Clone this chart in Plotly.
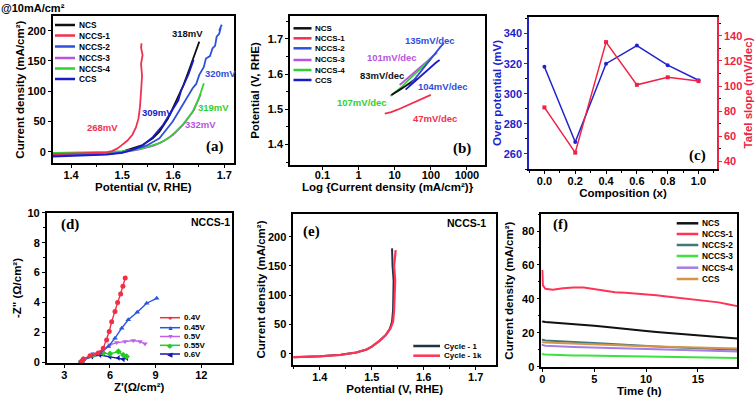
import plotly.graph_objects as go

W, H = 756, 402

# ---------------- Panel (a): LSV curves ----------------
a_ncs_x = [1.364, 1.42, 1.47, 1.50, 1.52, 1.54, 1.56, 1.573, 1.59, 1.605, 1.62, 1.631, 1.64, 1.651]
a_ncs_y = [-5, -4.5, -3, 0, 5, 11, 22, 33, 55, 83, 110, 135, 155, 182]
a_nccs1_x = [1.364, 1.42, 1.45, 1.47, 1.48, 1.49, 1.498, 1.51, 1.52, 1.527, 1.532, 1.535, 1.537, 1.539, 1.537, 1.540, 1.537, 1.538]
a_nccs1_y = [-4, -3, -2, -1, 1, 5, 10, 18, 28, 40, 55, 75, 100, 125, 145, 160, 172, 179]
a_nccs2_x = [1.364, 1.42, 1.47, 1.50, 1.52, 1.54, 1.55, 1.573, 1.599, 1.618, 1.625, 1.638, 1.645, 1.651, 1.66, 1.664, 1.672, 1.677, 1.682, 1.685, 1.69, 1.693, 1.69, 1.695]
a_nccs2_y = [-6, -5.5, -4, -1, 3, 8, 11, 22, 50, 77, 85, 105, 112, 127, 140, 154, 158, 171, 175, 190, 195, 205, 200, 210]
a_nccs3_x = [1.364, 1.42, 1.47, 1.50, 1.53, 1.562, 1.58, 1.60, 1.62, 1.64, 1.654]
a_nccs3_y = [-4, -4, -3, -1, 3, 10, 17, 28, 45, 68, 95]
a_nccs4_x = [1.364, 1.42, 1.47, 1.50, 1.53, 1.549, 1.573, 1.59, 1.605, 1.62, 1.638, 1.65, 1.66]
a_nccs4_y = [-2, -1.5, -0.5, 1, 4, 8, 14, 22, 33, 46, 66, 88, 113]
a_ccs_x = [1.364, 1.42, 1.47, 1.50, 1.52, 1.539, 1.56, 1.58, 1.60, 1.61, 1.615, 1.622, 1.63, 1.635, 1.64]
a_ccs_y = [-8, -7, -5, -2, 3, 10, 24, 44, 72, 85, 100, 112, 128, 140, 152]
a_labels = ["318mV", "320mV", "309mV", "319mV", "332mV", "268mV"]

# ---------------- Panel (b): Tafel plots ----------------
b_ncs_j = [8.1, 10, 14, 20, 28, 35, 40]
b_ncs_e = [1.541, 1.546, 1.556, 1.566, 1.576, 1.583, 1.588]
b_nccs1_j = [5.3, 8, 12, 20, 35, 55, 80, 100]
b_nccs1_e = [1.488, 1.492, 1.499, 1.509, 1.521, 1.531, 1.538, 1.541]
b_nccs2_j = [25, 35, 50, 70, 100, 140, 180, 230]
b_nccs2_e = [1.566, 1.585, 1.605, 1.625, 1.645, 1.662, 1.676, 1.688]
b_nccs3_j = [13.7, 20, 30, 50, 80, 110, 150]
b_nccs3_e = [1.569, 1.583, 1.598, 1.617, 1.637, 1.650, 1.661]
b_nccs4_j = [7.6, 10, 15, 25, 40, 60, 80, 98]
b_nccs4_e = [1.538, 1.548, 1.562, 1.585, 1.605, 1.622, 1.635, 1.642]
b_ccs_j = [20, 25, 35, 50, 70, 100, 140, 175]
b_ccs_e = [1.556, 1.565, 1.578, 1.592, 1.606, 1.620, 1.633, 1.640]
b_labels = ["135mV/dec", "101mV/dec", "83mV/dec", "104mV/dec", "107mV/dec", "47mV/dec"]

# ---------------- Panel (c): composition ----------------
c_comp = [0.0, 0.2, 0.4, 0.6, 0.8, 1.0]
c_overpot = [318, 268, 320, 332, 319, 309]
c_tafel = [83, 47, 135, 101, 107, 104]

# ---------------- Panel (d): Nyquist ----------------
d_04_x = [4.1, 4.25, 4.69, 5.23, 5.56, 5.78, 5.95, 6.11, 6.33, 6.5, 6.70, 6.85, 7.0]
d_04_y = [0.05, 0.23, 0.45, 0.63, 0.96, 1.51, 2.07, 2.73, 3.40, 4.0, 4.58, 5.1, 5.65]
d_045_x = [4.1, 4.25, 4.80, 5.34, 5.89, 6.33, 6.77, 7.20, 7.79, 8.41, 9.07]
d_045_y = [0.05, 0.2, 0.51, 0.63, 1.07, 1.63, 2.29, 2.85, 3.36, 3.96, 4.29]
d_05_x = [4.1, 4.25, 4.9, 5.45, 6.0, 6.44, 6.99, 7.53, 7.97, 8.30]
d_05_y = [0.05, 0.2, 0.58, 0.73, 1.18, 1.33, 1.40, 1.47, 1.40, 1.25]
d_055_x = [4.1, 4.25, 4.9, 5.56, 6.0, 6.55, 6.87, 7.1]
d_055_y = [0.05, 0.2, 0.5, 0.63, 0.58, 0.73, 0.51, 0.4]
d_06_x = [4.1, 4.25, 4.8, 5.34, 6.0, 6.55, 6.87, 7.1]
d_06_y = [0.03, 0.17, 0.4, 0.5, 0.38, 0.31, 0.22, 0.3]

# ---------------- Panel (e): cycling LSV ----------------
e_c1_x = [1.349, 1.40, 1.44, 1.47, 1.49, 1.50, 1.515, 1.527, 1.535, 1.539, 1.541, 1.542, 1.542, 1.540, 1.539]
e_c1_y = [-6, -4.5, -2, 2, 7, 12, 22, 32, 43, 55, 75, 100, 125, 150, 180]
e_c1k_x = [1.349, 1.40, 1.44, 1.47, 1.49, 1.50, 1.515, 1.527, 1.536, 1.541, 1.543, 1.544, 1.545, 1.543, 1.546]
e_c1k_y = [-6, -4.5, -2, 2, 7, 12, 22, 32, 43, 55, 75, 100, 125, 150, 177]

# ---------------- Panel (f): chronoamperometry ----------------
f_t = [0, 0.05, 0.3, 1, 2, 3, 4, 5, 6, 7, 8, 9, 10, 11, 12, 13, 14, 15, 16, 17, 18, 18.8]
f_nccs1 = [57, 48, 46, 45.5, 46.3, 46.8, 46.7, 45.8, 44.8, 44, 43.6, 43.2, 42.8, 42.2, 41.5, 40.8, 40.3, 39.8, 39, 38, 36.8, 35.8]
f_ncs = [27, 26.7, 26.5, 26.2, 25.9, 25.5, 25, 24.3, 23.6, 22.9, 22.3, 21.7, 21.2, 20.6, 20.1, 19.6, 19.2, 18.8, 18.3, 17.8, 17.2, 16.8]
f_nccs2 = [16.5, 16, 15.6, 15.3, 15, 14.7, 14.4, 14.1, 13.7, 13.3, 13, 12.7, 12.4, 12.1, 11.8, 11.5, 11.2, 10.9, 10.7, 10.5, 10.3, 10.1]
f_ccs = [15, 14.6, 14.4, 14.2, 14, 13.8, 13.6, 13.3, 13, 12.8, 12.6, 12.4, 12.2, 12, 11.8, 11.6, 11.4, 11.2, 11.1, 11, 10.9, 10.8]
f_nccs4 = [13.5, 12.8, 12.5, 12.2, 12, 11.8, 11.6, 11.4, 11.2, 11, 10.9, 10.7, 10.5, 10.3, 10.1, 9.9, 9.7, 9.5, 9.4, 9.3, 9.2, 9.1]
f_nccs3 = [8, 7.5, 7.3, 7.1, 6.9, 6.8, 6.7, 6.6, 6.5, 6.4, 6.3, 6.2, 6.1, 6.0, 5.9, 5.8, 5.7, 5.6, 5.5, 5.4, 5.3, 5.2]

names6 = ["NCS", "NCCS-1", "NCCS-2", "NCCS-3", "NCCS-4", "CCS"]

# colours
BLK = "#111111"
RED = "#f2304e"
BLU2 = "#3050dc"
PUR = "#b854e0"
GRN = "#33d033"
BLU = "#1a1ac8"
colors6 = [BLK, RED, BLU2, PUR, GRN, BLU]
f_colors = [BLK, "#ff3355", "#3f7a7a", "#3fe03f", "#a77de6", "#d4954a"]

FONT = "Liberation Sans, Arial, sans-serif"
SERIF = "Liberation Serif, Times New Roman, serif"


def fx(px):
    return px / W


def fy(py):
    return 1 - py / H


fig = go.Figure()


def add_line(x, y, color, xa, ya, width=1.6, mode="lines", symbol=None, size=5):
    kw = dict(x=x, y=y, mode=mode, line=dict(color=color, width=width),
              xaxis=xa, yaxis=ya, showlegend=False, hoverinfo="skip")
    if symbol:
        kw["marker"] = dict(symbol=symbol, size=size, color=color)
    fig.add_trace(go.Scatter(**kw))


# panel a
for xs, ys, c in [(a_ncs_x, a_ncs_y, BLK), (a_nccs3_x, a_nccs3_y, PUR), (a_nccs4_x, a_nccs4_y, GRN),
                  (a_nccs2_x, a_nccs2_y, BLU2), (a_ccs_x, a_ccs_y, BLU), (a_nccs1_x, a_nccs1_y, RED)]:
    add_line(xs, ys, c, "x", "y", width=1.8)

# panel b
for xs, ys, c in [(b_nccs3_j, b_nccs3_e, PUR), (b_nccs4_j, b_nccs4_e, GRN), (b_ncs_j, b_ncs_e, BLK),
                  (b_nccs2_j, b_nccs2_e, BLU2), (b_ccs_j, b_ccs_e, BLU), (b_nccs1_j, b_nccs1_e, RED)]:
    add_line(xs, ys, c, "x2", "y2", width=1.8)

# panel c
add_line(c_comp, c_overpot, "#2222cc", "x3", "y3", width=1.5, mode="lines+markers", symbol="circle", size=4)
add_line(c_comp, c_tafel, "#ee2244", "x3", "y7", width=1.5, mode="lines+markers", symbol="square", size=4)

# panel d
d_series = [(d_04_x, d_04_y, "#f22e45", "circle"), (d_045_x, d_045_y, "#2a55dd", "triangle-up"),
            (d_05_x, d_05_y, "#c060e8", "triangle-down"), (d_055_x, d_055_y, "#22cc22", "diamond"),
            (d_06_x, d_06_y, "#1515b0", "triangle-left")]
for xs, ys, c, s in reversed(d_series):
    add_line(xs, ys, c, "x4", "y4", width=1.4, mode="lines+markers", symbol=s, size=5)

# panel e
add_line(e_c1_x, e_c1_y, "#223344", "x5", "y5", width=2)
add_line(e_c1k_x, e_c1k_y, "#ff3355", "x5", "y5", width=2.2)

# panel f
for ys, c in zip([f_ncs, f_nccs1, f_nccs2, f_nccs3, f_nccs4, f_ccs], f_colors):
    add_line(f_t, ys, c, "x6", "y6", width=2)

# ---------- axes ----------
TICK_SIZE = 11
TITLE_SIZE = 11.5
tickfont = dict(family=FONT, size=TICK_SIZE, color="black", weight="bold")
titlefont = dict(family=FONT, size=TITLE_SIZE, color="black", weight="bold")


def ax(domain, rng, title, dtick=None, tickvals=None, ticktext=None, typ="linear", minor=True,
       standoff=2, is_x=False):
    d = dict(domain=domain, range=rng, type=typ, showline=True, linecolor="black", linewidth=1.5,
             mirror=True, ticks="outside", ticklen=3, tickwidth=1.2, tickcolor="black",
             showgrid=False, zeroline=False, tickfont=tickfont,
             title=dict(text=title, font=titlefont, standoff=standoff), automargin=False)
    if is_x:
        d["ticklabelstandoff"] = -2
    if dtick is not None:
        d["dtick"] = dtick
        d["tick0"] = 0
    if tickvals is not None:
        d["tickvals"] = tickvals
        d["ticktext"] = ticktext
        d["tickmode"] = "array"
    if minor and typ == "linear":
        d["minor"] = dict(ticks="outside", ticklen=2, tickwidth=1, tickcolor="black", nticks=2)
    return d


lay = dict(width=W, height=H, margin=dict(l=0, r=0, t=0, b=0), paper_bgcolor="white",
           plot_bgcolor="white", font=dict(family=FONT, color="black"), showlegend=False)

# a
lay["xaxis"] = ax([fx(52.7), fx(234)], [1.364, 1.719], "Potential (V, RHE)", dtick=0.1, standoff=0, is_x=True)
lay["yaxis"] = ax([fy(163.3), fy(16)], [-19.2, 224.3], "Current density (mA/cm²)", dtick=50, standoff=0)
lay["xaxis"]["anchor"] = "y"
lay["yaxis"]["anchor"] = "x"
# b
lay["xaxis2"] = ax([fx(290), fx(485)], [-1.9, 3.5], "Log {Current density (mA/cm²)}",
                   tickvals=[0.1, 1, 10, 100, 1000], ticktext=["0.1", "1", "10", "100", "1000"], typ="log",
                   standoff=0, is_x=True)
lay["xaxis2"]["ticklabelstandoff"] = -4
lay["yaxis2"] = ax([fy(165), fy(16)], [1.342, 1.765], "Potential (V, RHE)", dtick=0.1, standoff=6)
lay["xaxis2"]["anchor"] = "y2"
lay["yaxis2"]["anchor"] = "x2"
# c
lay["xaxis3"] = ax([fx(529), fx(717)], [-0.1, 1.12], "Composition (x)", dtick=0.2, standoff=0, is_x=True)
lay["xaxis3"]["anchor"] = "y3"
lay["xaxis3"]["tickformat"] = ".1f"
lay["yaxis3"] = ax([fy(169), fy(17)], [250, 351], "Over potential (mV)", dtick=20)
lay["yaxis3"].update(anchor="x3", mirror=False, linecolor="#2222cc", tickcolor="#2222cc",
                     tickfont=dict(family=FONT, size=TICK_SIZE, color="#2222cc", weight="bold"),
                     title=dict(text="Over potential (mV)", standoff=0,
                                font=dict(family=FONT, size=TITLE_SIZE, color="#2222cc", weight="bold")))
lay["yaxis7"] = ax([fy(169), fy(17)], [34, 155], "Tafel slope (mV/dec)", dtick=20)
lay["yaxis7"].update(anchor="x3", overlaying="y3", side="right", mirror=False, linecolor="#ee2244",
                     tickcolor="#ee2244",
                     tickfont=dict(family=FONT, size=TICK_SIZE, color="#ee2244", weight="bold"),
                     title=dict(text="Tafel slope (mV/dec)", standoff=0,
                                font=dict(family=FONT, size=TITLE_SIZE, color="#ee2244", weight="bold")))
# d
lay["xaxis4"] = ax([fx(46.7), fx(231.7)], [1.84, 14.0], "Z'(Ω/cm²)", dtick=3, standoff=1, is_x=True)
lay["yaxis4"] = ax([fy(363.3), fy(212.7)], [-0.05, 10], "-Z\" (Ω/cm²)", dtick=2, standoff=3)
lay["xaxis4"]["anchor"] = "y4"
lay["yaxis4"]["anchor"] = "x4"
# e
lay["xaxis5"] = ax([fx(293.3), fx(496)], [1.349, 1.739], "Potential (V, RHE)", dtick=0.1, standoff=0, is_x=True)
lay["yaxis5"] = ax([fy(365), fy(214)], [-19.4, 238.8], "Current density (mA/cm²)", dtick=50, standoff=0)
lay["xaxis5"]["anchor"] = "y5"
lay["yaxis5"]["anchor"] = "x5"
# f
lay["xaxis6"] = ax([fx(541.3), fx(737.3)], [-0.1, 18.8], "Time (h)", dtick=5, standoff=2, is_x=True)
lay["yaxis6"] = ax([fy(367.3), fy(214)], [-0.2, 90], "Current density (mA/cm²)", dtick=20, standoff=6)
lay["xaxis6"]["anchor"] = "y6"
lay["yaxis6"]["anchor"] = "x6"

fig.update_layout(**lay)

annotations = []
shapes = []


def text(px, py, s, color="black", size=9.5, family=FONT, xanchor="center", weight="bold"):
    annotations.append(dict(x=fx(px), y=fy(py), xref="paper", yref="paper", text=s, showarrow=False,
                            xanchor=xanchor, yanchor="middle",
                            font=dict(family=family, size=size, color=color, weight=weight)))


def legend(x0, x1, xt, ys, names, colors, size=8, lw=2.2, syms=None):
    for i, (yy, n, c) in enumerate(zip(ys, names, colors)):
        shapes.append(dict(type="line", xref="paper", yref="paper", x0=fx(x0), x1=fx(x1),
                           y0=fy(yy), y1=fy(yy), line=dict(color=c, width=lw)))
        if syms:
            text((x0 + x1) / 2, yy, syms[i], color=c, size=7, weight="normal")
        text(xt, yy, n, size=size, xanchor="left")


# panel a texts
text(33, 8, "@10mA/cm²", size=11)
legend(55, 75, 76.5, [25, 35.5, 46.5, 58, 68.5, 79], names6, colors6, size=8.3, lw=2.5)
for (px, py), s, c in zip([(187, 33), (220, 74), (157, 112), (213, 107), (200, 125), (102, 127)], a_labels,
                          [BLK, BLU2, BLU, GRN, PUR, RED]):
    text(px, py, s, color=c, size=9.5)
text(215, 146, "(a)", size=15, family=SERIF)

# panel b texts
legend(293.5, 311.5, 313, [28.3, 38.3, 48.3, 60, 70, 80], names6, colors6, size=8, lw=2.5)
for (px, py), s, c in zip([(430, 40), (392, 57.3), (382, 75), (443.3, 86), (362, 102.7), (435, 118.3)],
                          b_labels, [BLU2, PUR, BLK, BLU2, GRN, RED]):
    text(px, py, s, color=c, size=9.5)
text(462, 148.3, "(b)", size=15, family=SERIF)

# panel c
text(697, 155, "(c)", size=15, family=SERIF)

# panel d
legend(160, 180, 181.7, [317.7, 327.7, 336.5, 345.3, 354],
       ["0.4V", "0.45V", "0.5V", "0.55V", "0.6V"],
       ["#f22e45", "#2a55dd", "#c060e8", "#22cc22", "#1515b0"], size=8, lw=1.5,
       syms=["●", "▲", "▼", "◆", "◀"])
text(210, 221.7, "NCCS-1", size=10.5)
text(70, 225, "(d)", size=15, family=SERIF)

# panel e
legend(413.3, 440, 441.7, [346, 355.7], ["Cycle - 1", "Cycle - 1k"], ["#223344", "#ff3355"], size=8, lw=2.5)
text(466.7, 222.7, "NCCS-1", size=10.5)
text(311.7, 231.7, "(e)", size=15, family=SERIF)

# panel f
legend(676.7, 698.3, 700, [223.3, 234, 245, 256, 267.7, 279], names6, f_colors, size=8.3, lw=2.5)
text(560, 225, "(f)", size=15, family=SERIF)

fig.update_layout(annotations=annotations, shapes=shapes)
fig.write_html("out.html", config={"displayModeBar": False},
               post_script="document.body.style.margin='0px';")
